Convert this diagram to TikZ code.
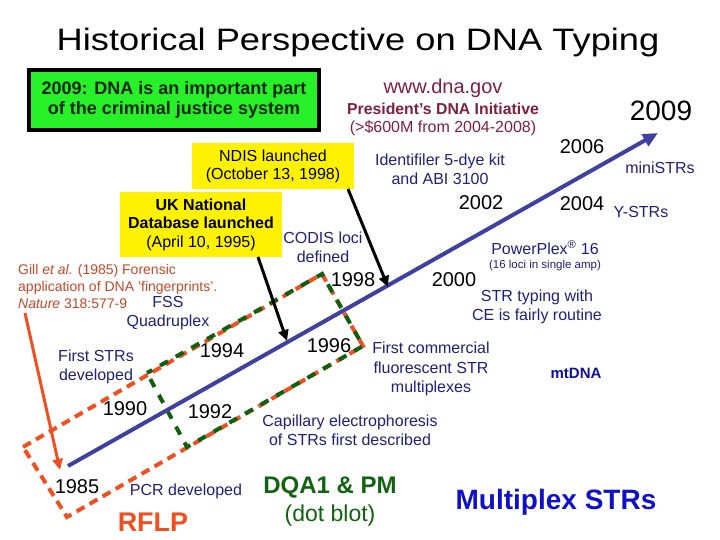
\documentclass[tikz,border=0pt]{standalone}
\usepackage{fontspec}
\setmainfont{Liberation Sans}
\usetikzlibrary{arrows.meta}
\definecolor{navy}{RGB}{32,32,128}
\definecolor{maroon}{RGB}{128,32,64}
\definecolor{slateline}{RGB}{64,64,160}
\definecolor{orangered}{RGB}{240,80,32}
\definecolor{gilltext}{RGB}{200,72,40}
\definecolor{dkgreen}{RGB}{16,100,16}
\definecolor{dashgreen}{RGB}{16,96,16}
\definecolor{boxgreen}{RGB}{40,240,40}
\definecolor{strblue}{RGB}{16,16,200}
\definecolor{mtblue}{RGB}{16,16,160}
\begin{document}
\begin{tikzpicture}[x=1pt,y=-1pt,
  every node/.style={inner sep=0pt, align=center},
  yearlbl/.style={font=\fontsize{20}{24}\selectfont, text=black},
  navytxt/.style={font=\fontsize{16}{19.5}\selectfont, text=navy},
  blackarrow/.style={draw=black, line width=3pt, -{Triangle[length=11pt,width=10pt]}},
  dashbox/.style={line width=4pt, line join=miter},
]
\useasboundingbox (0,0) rectangle (720,540);
\fill[white] (0,0) rectangle (720,540);

% title
\node[font=\fontsize{31}{36}\selectfont] (title) at (358,42) {\scalebox{1.17}[1]{Historical Perspective on DNA Typing}};

% dashed boxes
\draw[dashbox, draw=orangered, dash pattern=on 9pt off 6pt]
  (23,447) -- (322,274) -- (363,346) -- (67,517) -- cycle;
\draw[dashbox, draw=dashgreen, dash pattern=on 9pt off 9pt, dash phase=3pt]
  (147,373) -- (322,274) -- (363,346) -- (187,447) -- cycle;

% main blue timeline
\coordinate (tstart) at (68,466);
\coordinate (tend) at (658,133);
\draw[draw=slateline, line width=4pt, -{Triangle[length=15pt,width=13pt]}] (tstart) -- (tend);
\coordinate (hit98) at (388,287);
\coordinate (hit95) at (287,341);

% green box
\node[draw=black, line width=4pt, fill=boxgreen, minimum width=290, minimum height=60,
      text=black!85!green, font=\bfseries\fontsize{18}{20}\selectfont] (gbox) at (174,100)
  {2009: DNA is an important part\\of the criminal justice system};

% dna.gov
\node[text=maroon, font=\fontsize{20}{23}\selectfont] (dnagov) at (443,88) {www.dna.gov};
\node[text=maroon, font=\bfseries\fontsize{15.8}{18}\selectfont] (pres) at (443,109) {President’s DNA Initiative};
\node[text=maroon, font=\fontsize{16}{18}\selectfont] (money) at (443,128) {(>\$600M from 2004-2008)};

\node[font=\fontsize{28}{32}\selectfont] (y2009) at (661,111) {2009};
\node[yearlbl] (y2006) at (582,147) {2006};
\node[navytxt] (mini) at (660,168) {miniSTRs};

% NDIS
\node[fill=yellow, minimum width=162, minimum height=46, font=\fontsize{16}{18}\selectfont] (ndis) at (273,166)
  {NDIS launched\\(October 13, 1998)};
\node[navytxt] (ident) at (440,169.5) {Identifiler 5-dye kit\\and ABI 3100};
\node[yearlbl] (y2002) at (481,203) {2002};
\node[yearlbl] (y2004) at (582,204) {2004};
\node[navytxt] (ystr) at (641,212) {Y-STRs};

% UK
\node[fill=yellow, minimum width=162, minimum height=65, font=\fontsize{16}{18.5}\selectfont] (uk) at (201,224.5)
  {\textbf{UK National}\\\textbf{Database launched}\\(April 10, 1995)};
\node[navytxt] (codis) at (323,247.5) {CODIS loci\\defined};
\node[yearlbl] (y1998) at (353,280) {1998};
\node[yearlbl] (y2000) at (454,280) {2000};
\node[navytxt] (pp) at (545,248) {PowerPlex\textsuperscript{®} 16};
\node[text=navy, font=\fontsize{11.5}{13}\selectfont] (pp16) at (545,266) {(16 loci in single amp)};
\node[navytxt] (routine) at (537,307) {STR typing with\\CE is fairly routine};

% Gill
\node[text=gilltext, font=\fontsize{14}{17}\selectfont, align=left, anchor=west] (gill) at (18,286)
  {Gill \textit{et al.} (1985) Forensic\\application of DNA 'fingerprints'.\\\textit{Nature} 318:577-9};
\node[navytxt] (fss) at (168,313) {FSS\\Quadruplex};

\node[navytxt] (firststr) at (96,367) {First STRs\\developed};
\node[yearlbl] (y1994) at (222,351) {1994};
\node[yearlbl] (y1996) at (329,346) {1996};
\node[navytxt] (firstcom) at (431,369) {First commercial\\fluorescent STR\\multiplexes};
\node[text=mtblue, font=\bfseries\fontsize{15}{18}\selectfont] (mt) at (576,373) {mtDNA};
\node[yearlbl] (y1990) at (125,409) {1990};
\node[yearlbl] (y1992) at (210,412) {1992};
\node[navytxt] (cap) at (350,430.5) {Capillary electrophoresis\\of STRs first described};

\node[yearlbl] (y1985) at (77,487) {1985};
\node[navytxt] (pcr) at (186,491) {PCR developed};
\node[text=orangered, font=\bfseries\fontsize{27}{30}\selectfont] (rflp) at (153,522) {RFLP};
\node[text=dkgreen, font=\bfseries\fontsize{24}{27}\selectfont] (dqa) at (330,487) {DQA1 \& PM};
\node[text=dkgreen, font=\fontsize{23}{27}\selectfont] (dot) at (330,516) {(dot blot)};
\node[text=strblue, font=\bfseries\fontsize{28}{31}\selectfont] (mstr) at (556,502) {Multiplex STRs};

% arrows
\coordinate (ndisfoot) at (348,189);
\coordinate (ukfoot) at (258,257);
\draw[blackarrow] (ndisfoot) -- (hit98);
\draw[blackarrow] (ukfoot) -- (hit95);
\coordinate (gillfoot) at (25,313);
\coordinate (hit85) at (60,470);
\draw[draw=orangered, line width=3pt, -{Triangle[length=11pt,width=10pt]}] (gillfoot) -- (hit85);
\end{tikzpicture}
\end{document}
